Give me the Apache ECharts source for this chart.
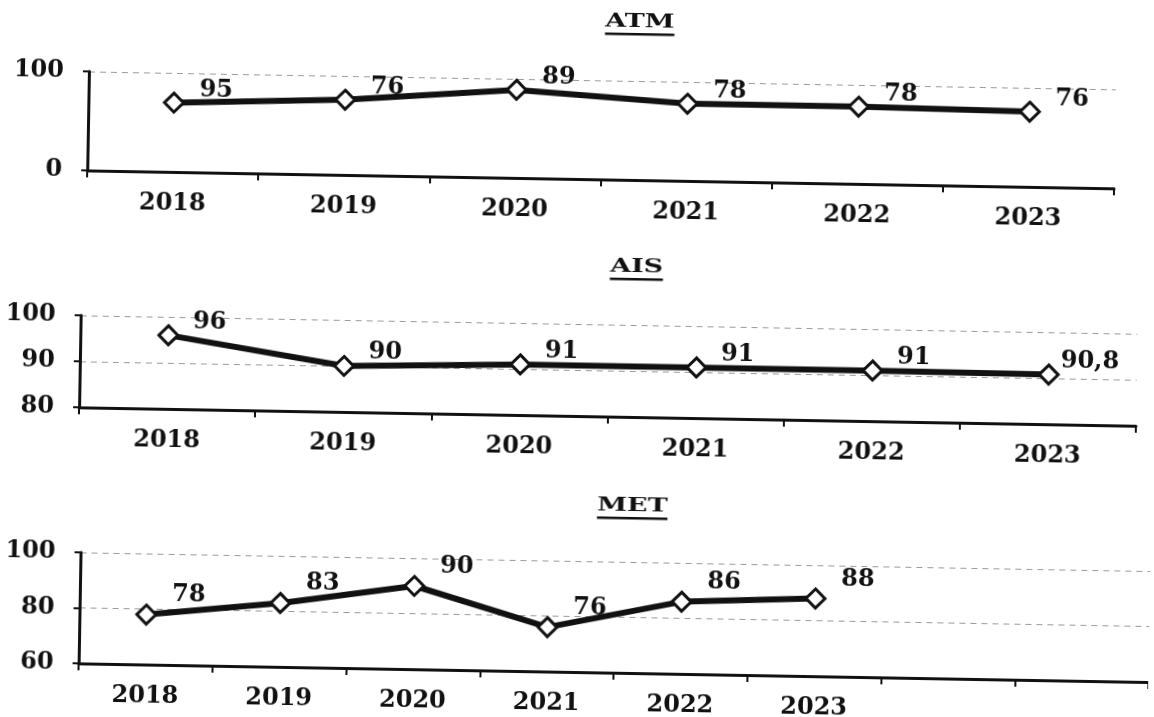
<!DOCTYPE html>
<html><head><meta charset="utf-8">
<script src="https://cdn.jsdelivr.net/npm/echarts/dist/echarts.min.js"></script>
<style>
html,body{margin:0;padding:0;background:#fff;overflow:hidden;}
#c{width:1154px;height:717px;transform:rotate(1deg);transform-origin:50% 50%;background:#fff;}
</style>
</head><body><div id="c"></div>
<script>
// ---- data ----
const years = ['2018', '2019', '2020', '2021', '2022', '2023'];
const metYears = ['2018', '2019', '2020', '2021', '2022', '2023', ' ', '  '];
const titles = ['ATM', 'AIS', 'MET'];

const atmValues = [70, 76, 89, 78, 78, 76];
const atmLabels = ['95', '76', '89', '78', '78', '76'];

const aisValues = [96, 90, 91, 91, 91, 90.8];
const aisLabels = ['96', '90', '91', '91', '91', '90,8'];

const metValues = [78, 83, 90, 76, 86, 88];
const metLabels = ['78', '83', '90', '76', '86', '88'];

const atmTicks = [0, 100];
const aisTicks = [80, 90, 100];
const metTicks = [60, 80, 100];

// ---- styling ----
const FONT = 'DejaVu Serif';
const INK = '#111';
const FS = 24;

const grids = [
  { left: 84, top: 80, width: 1027, height: 99 },
  { left: 80, top: 324, width: 1057, height: 92 },
  { left: 84, top: 561, width: 1088, height: 111 }
];
const titlePos = [[634, 21], [635, 266], [635, 505]];
const labelOffsets = [[42, -13], [41, -14], [42, -20]];

function xAxis(i, data) {
  return {
    type: 'category', gridIndex: i, data: data, boundaryGap: true,
    axisLine: { show: true, lineStyle: { color: INK, width: 3 } },
    axisTick: { show: true, alignWithLabel: false, length: 7, inside: false, lineStyle: { color: INK, width: 2 } },
    axisLabel: { color: INK, fontFamily: FONT, fontWeight: 'bold', fontSize: FS, margin: 20, interval: 0 },
    splitLine: { show: false }
  };
}
function yAxis(i, ticks) {
  return {
    type: 'value', gridIndex: i, min: ticks[0], max: ticks[ticks.length - 1],
    interval: ticks[1] - ticks[0],
    axisLine: { show: true, lineStyle: { color: INK, width: 3 } },
    axisTick: { show: true, length: 6, lineStyle: { color: INK, width: 2 } },
    axisLabel: { color: INK, fontFamily: FONT, fontWeight: 'bold', fontSize: FS, margin: 25 },
    splitLine: { show: true, lineStyle: { color: '#9a9a9a', type: [6, 5], width: 1.2 } }
  };
}
function series(i, values, labels) {
  return {
    type: 'line', xAxisIndex: i, yAxisIndex: i, data: values,
    symbol: 'diamond', symbolSize: [19, 19],
    lineStyle: { color: INK, width: 6 },
    itemStyle: { color: '#fff', borderColor: INK, borderWidth: 3 },
    label: {
      show: true, position: 'inside', offset: labelOffsets[i],
      formatter: p => labels[p.dataIndex],
      color: INK, fontFamily: FONT, fontWeight: 'bold', fontSize: FS
    },
    z: 3
  };
}

const chart = echarts.init(document.getElementById('c'), null, { renderer: 'canvas' });

// titles: wide bold serif, underlined
const TFONT = 'bold 19px "' + FONT + '"';
const TSCALE = 1.42;
const mctx = document.createElement('canvas').getContext('2d');
mctx.font = TFONT;
const graphics = [];
titles.forEach((t, i) => {
  const w = mctx.measureText(t).width * TSCALE;
  const [cx, cy] = titlePos[i];
  graphics.push({
    type: 'text', x: cx, y: cy, scaleX: TSCALE,
    style: { text: t, x: 0, y: 0, font: TFONT, fill: INK, align: 'center', verticalAlign: 'middle' }
  });
  graphics.push({
    type: 'rect', x: cx, y: cy + 11,
    shape: { x: -w / 2, y: 0, width: w, height: 2.5 }, style: { fill: INK }
  });
});

chart.setOption({
  animation: false,
  backgroundColor: '#fff',
  grid: grids,
  xAxis: [xAxis(0, years), xAxis(1, years), xAxis(2, metYears)],
  yAxis: [yAxis(0, atmTicks), yAxis(1, aisTicks), yAxis(2, metTicks)],
  series: [series(0, atmValues, atmLabels), series(1, aisValues, aisLabels), series(2, metValues, metLabels)],
  graphic: graphics
});
</script>
</body></html>
